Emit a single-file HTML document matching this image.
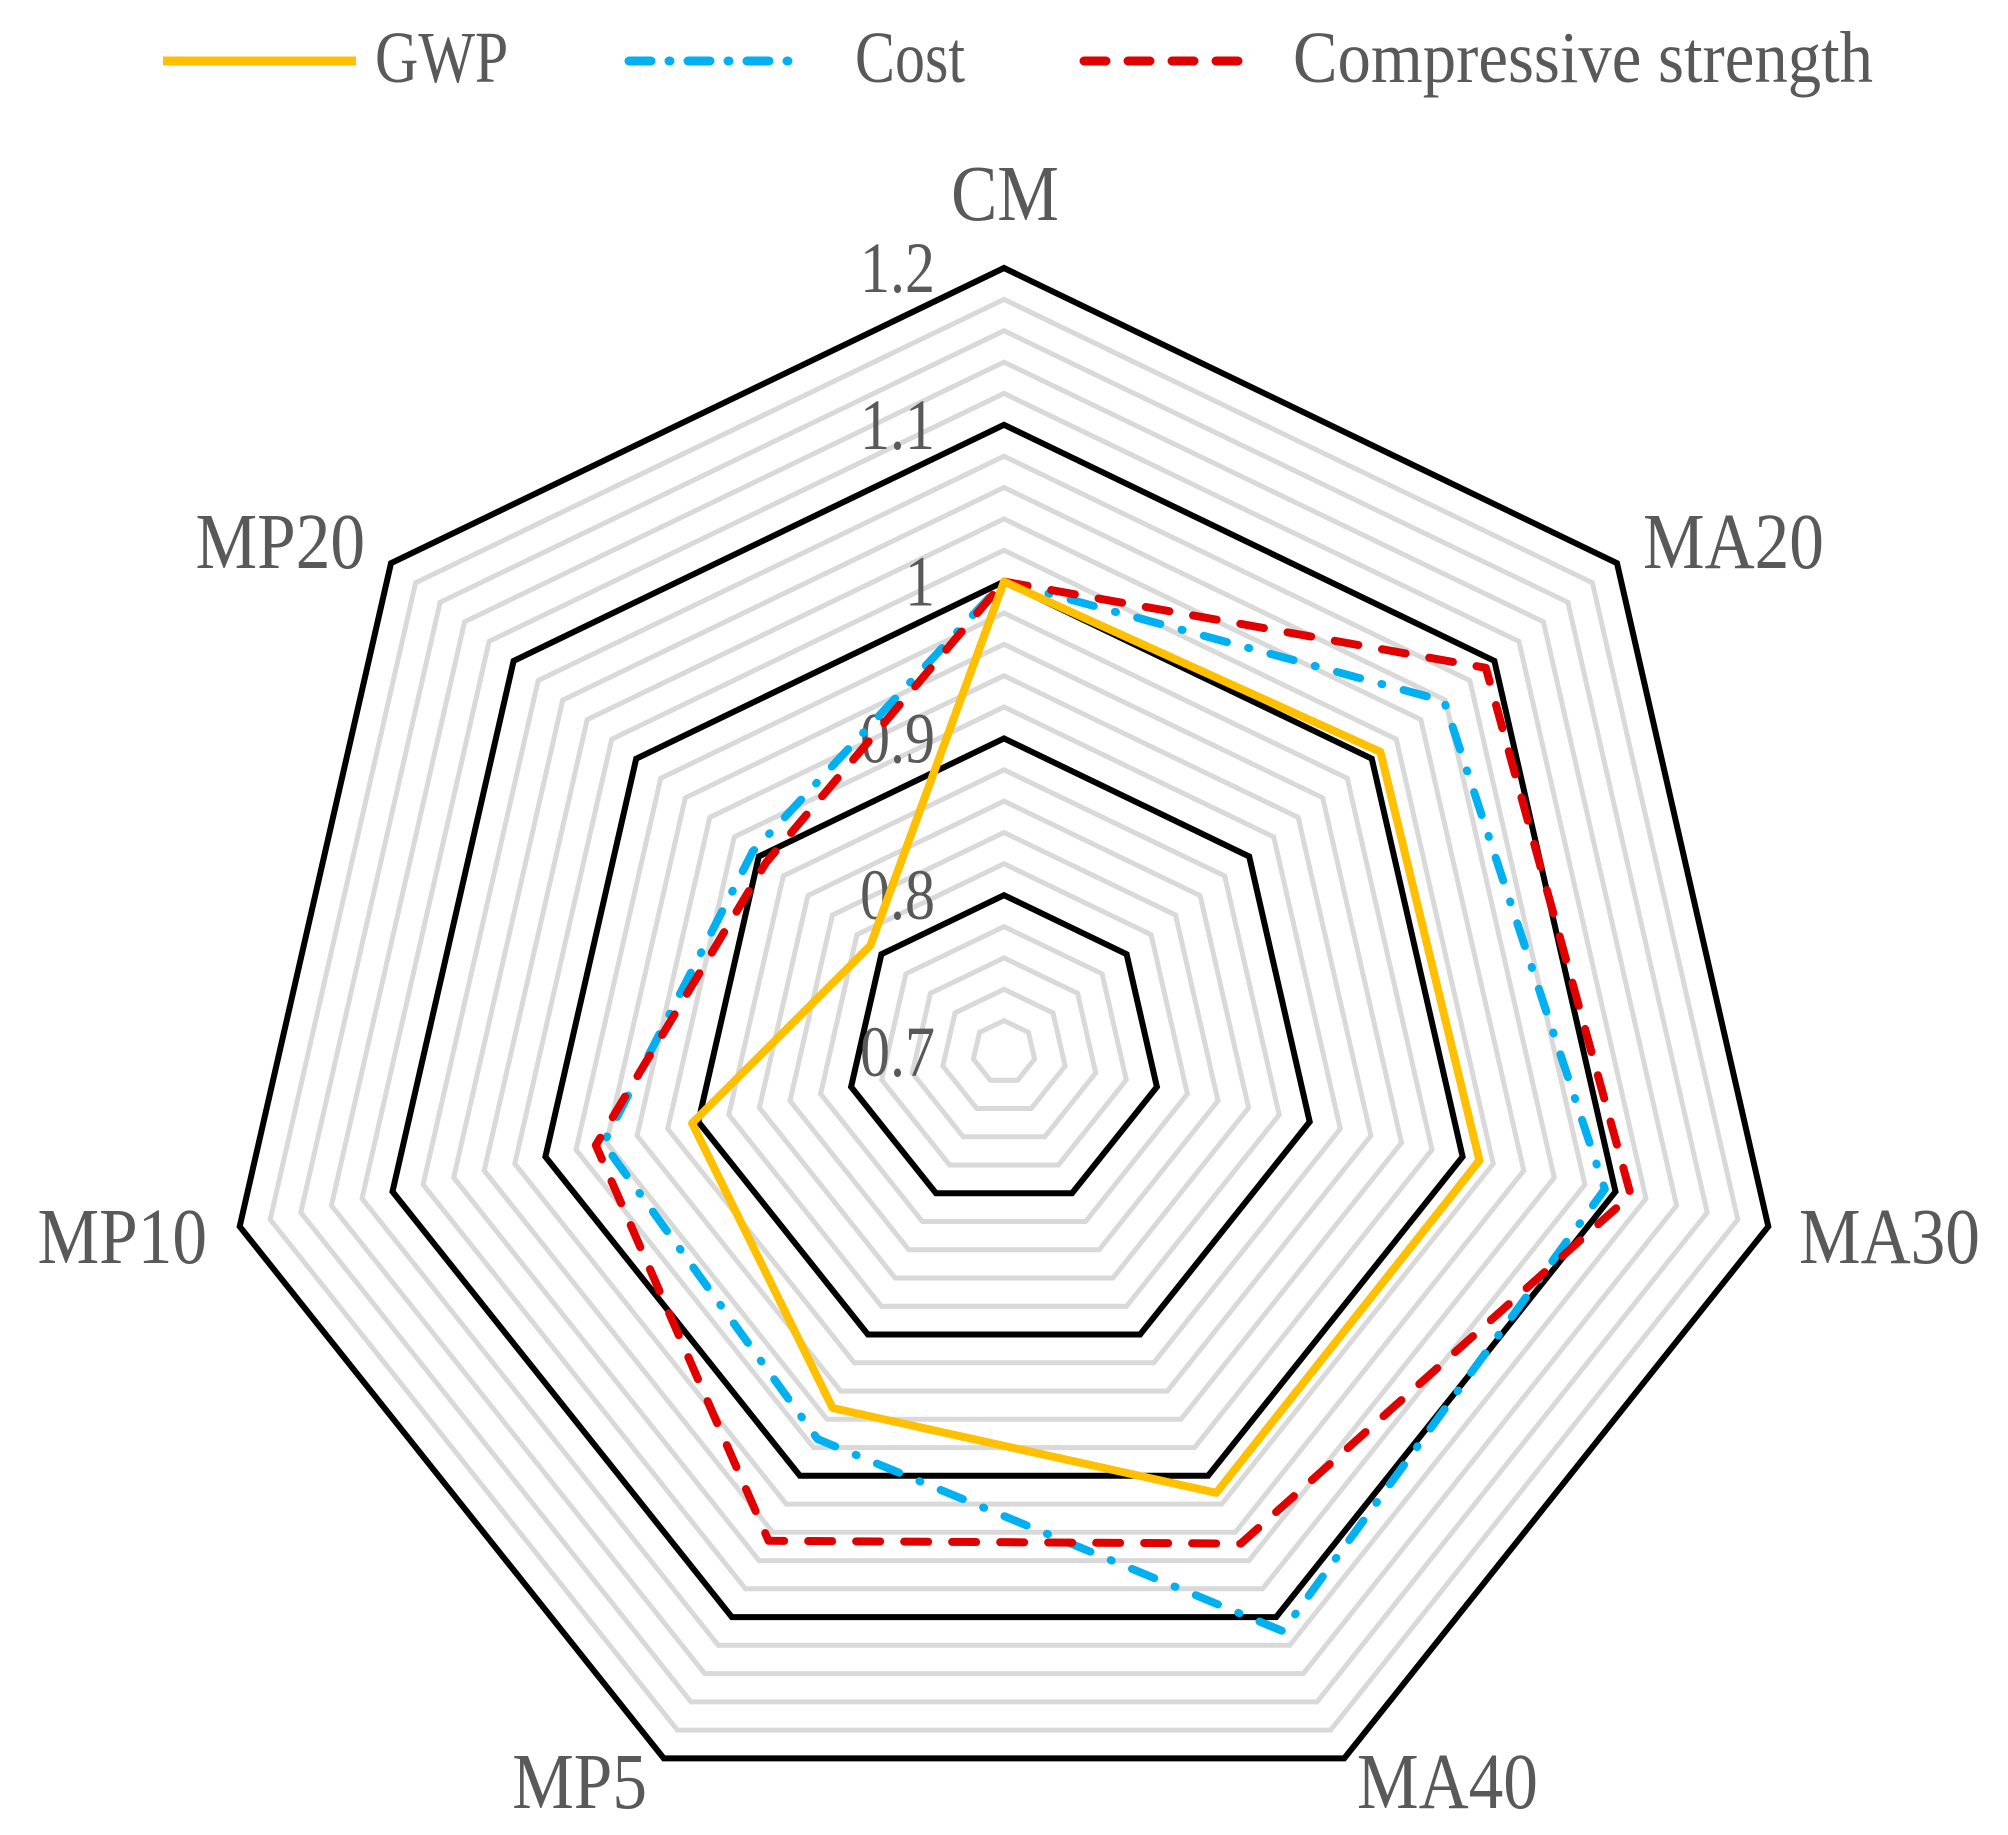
<!DOCTYPE html>
<html><head><meta charset="utf-8"><style>
html,body{margin:0;padding:0;background:#fff;}
svg text{font-family:"Liberation Serif",serif;fill:#595959;}
</style></head><body>
<svg id="chart" width="2008" height="1830" viewBox="0 0 2008 1830" xmlns="http://www.w3.org/2000/svg">
<g id="legend">
  <g>
    <line x1="163" y1="61" x2="356" y2="61" stroke="#FFC000" stroke-width="9"/>
    <text transform="translate(375,82) scale(1,1.22)" font-size="60">GWP</text>
  </g>
  <g>
    <line x1="629" y1="61" x2="804" y2="61" stroke="#00B0F0" stroke-width="9" stroke-linecap="round" stroke-dasharray="22 18 1 18"/>
    <text transform="translate(855,82) scale(1,1.22)" font-size="60">Cost</text>
  </g>
  <g>
    <line x1="1084" y1="61" x2="1245" y2="61" stroke="#E00000" stroke-width="9" stroke-linecap="round" stroke-dasharray="22 22"/>
    <text transform="translate(1293,82) scale(1,1.22)" font-size="60" textLength="580" lengthAdjust="spacingAndGlyphs">Compressive strength</text>
  </g>
</g>
<g id="grid"></g>
<g id="ticks"></g>
<g id="series"></g>
<g id="cats"></g>
</svg>
<script>
const categories = ["CM","MA20","MA30","MA40","MP5","MP10","MP20"];
const gwp = [1.0, 1.007, 1.011, 1.012, 0.952, 0.904, 0.809];
const cost = [1.0, 1.059, 1.093, 1.11, 0.974, 0.962, 0.905];
const strength = [1.0, 1.093, 1.11, 1.048, 1.046, 0.967, 0.894];
const tickLabels = ["0.7","0.8","0.9","1","1.1","1.2"];
const tickValues = [0.7,0.8,0.9,1.0,1.1,1.2];

const NS = "http://www.w3.org/2000/svg";
const cx = 1004, cy = 1052, R = 784, vmin = 0.7, vmax = 1.2;
const n = categories.length;
function rScale(v){ return (v - vmin) / (vmax - vmin) * R; }
function pt(i, v){
  const a = i * 2 * Math.PI / n;
  const r = rScale(v);
  return [cx + r * Math.sin(a), cy - r * Math.cos(a)];
}
function polyPoints(vals){ return vals.map((v,i)=>pt(i,v).map(c=>c.toFixed(1)).join(",")).join(" "); }

const grid = document.getElementById("grid");
for (let k = 1; k <= 25; k++) {
  const v = vmin + k * 0.02;
  const major = k % 5 === 0;
  const p = document.createElementNS(NS, "polygon");
  p.setAttribute("points", polyPoints(categories.map(()=>v)));
  p.setAttribute("fill", "none");
  p.setAttribute("stroke", major ? "#000" : "#d9d9d9");
  p.setAttribute("stroke-width", major ? "6" : "5");
  
  
  if (!major) grid.insertBefore(p, grid.firstChild); else grid.appendChild(p);
}

const ticks = document.getElementById("ticks");
tickValues.forEach((v, i) => {
  const [x, y] = pt(0, v);
  const t = document.createElementNS(NS, "text");
  t.setAttribute("transform", "translate(935," + (y + 24).toFixed(1) + ") scale(1,1.2)");
  t.setAttribute("font-size", "60");
  t.setAttribute("text-anchor", "end");
  t.textContent = tickLabels[i];
  
  
  ticks.appendChild(t);
});

const seriesG = document.getElementById("series");
function addSeries(vals, color, dash, name){
  const p = document.createElementNS(NS, "polygon");
  p.setAttribute("points", polyPoints(vals));
  p.setAttribute("fill", "none");
  p.setAttribute("stroke", color);
  p.setAttribute("stroke-width", "8");
  p.setAttribute("stroke-linejoin", "round");
  if (dash) { p.setAttribute("stroke-dasharray", dash); p.setAttribute("stroke-linecap", "round"); }
  
  
  seriesG.appendChild(p);
}
addSeries(cost, "#00B0F0", "24 22 1 22", "cost-series");
addSeries(strength, "#E00000", "24 24", "compressive-strength-series");
addSeries(gwp, "#FFC000", null, "gwp-series");

const catPos = [
  [1005, 220, "middle"],
  [1643, 568, "start"],
  [1799, 1263, "start"],
  [1357, 1808, "start"],
  [647, 1808, "end"],
  [207, 1263, "end"],
  [365, 568, "end"]
];
const cats = document.getElementById("cats");
categories.forEach((c, i) => {
  const t = document.createElementNS(NS, "text");
  t.setAttribute("transform", "translate(" + catPos[i][0] + "," + catPos[i][1] + ") scale(1.05,1.2)");
  t.setAttribute("text-anchor", catPos[i][2]);
  t.setAttribute("font-size", "66");
  t.textContent = c;
  
  
  cats.appendChild(t);
});
</script>
</body></html>
